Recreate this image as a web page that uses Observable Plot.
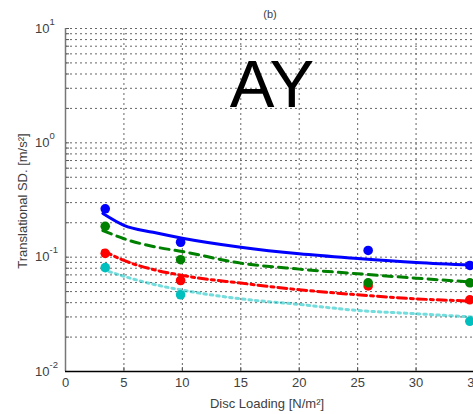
<!DOCTYPE html>
<html>
<head>
<meta charset="utf-8">
<script src="https://cdn.jsdelivr.net/npm/d3@7"></script>
<script src="https://cdn.jsdelivr.net/npm/@observablehq/plot@0.6"></script>
<style>
  html, body { margin: 0; padding: 0; background: white; overflow: hidden; }
</style>
</head>
<body>
<div id="chart"></div>
<script>
// tick values
const xTicks = [0, 5, 10, 15, 20, 25, 30, 35];
const yDecades = [0.01, 0.1, 1, 10];
const yExponents = ["-2", "-1", "0", "1"];
const yGrid = [0.01,0.02,0.03,0.04,0.05,0.06,0.07,0.08,0.09,
               0.1,0.2,0.3,0.4,0.5,0.6,0.7,0.8,0.9,
               1,2,3,4,5,6,7,8,9,10];

// measured points (disc loading)
const xPoints = [3.4, 9.85, 25.9, 34.6];
const bluePoints  = [0.265, 0.135, 0.1145, 0.0846];
const greenPoints = [0.186, 0.095, 0.0597, 0.0597];
const redPoints   = [0.108, 0.0625, 0.056, 0.0424];
const cyanPoints  = [0.081, 0.0469, null, 0.0275];

// fitted curves
const xFit = [3.2, 5, 7.5, 10, 15, 20, 25, 30, 35];
const blueFit  = [0.241, 0.190, 0.165, 0.1466, 0.1223, 0.107, 0.0974, 0.090, 0.0851];
const greenFit = [0.171, 0.145, 0.124, 0.112, 0.0887, 0.0786, 0.0716, 0.0655, 0.0604];
const redFit   = [0.1145, 0.0936, 0.078, 0.0692, 0.0593, 0.0519, 0.0469, 0.0432, 0.0412];
const cyanFit  = [0.078, 0.068, 0.058, 0.0515, 0.0432, 0.0386, 0.0342, 0.032, 0.0299];

const series = [
  {name: "cyan",  color: "#00bfbf", pts: cyanPoints,  fit: cyanFit},
  {name: "red",   color: "#ff0000", pts: redPoints,   fit: redFit},
  {name: "green", color: "#008000", pts: greenPoints, fit: greenFit},
  {name: "blue",  color: "#0000ff", pts: bluePoints,  fit: blueFit}
];
const pointRows = series.flatMap(s => xPoints.map((x, i) => ({x, y: s.pts[i], c: s.color})).filter(d => d.y != null));
const fitRows = name => { const s = series.find(s => s.name === name); return xFit.map((x, i) => ({x, y: s.fit[i]})); };

const font = "'Liberation Sans', Arial, sans-serif";
const txt = "#404040";
const gridStyle = {stroke: "#666", strokeWidth: 1, strokeDasharray: "2,3"};

const chart = Plot.plot({
  width: 473,
  height: 414,
  marginLeft: 65,
  marginRight: -1,
  marginTop: 28,
  marginBottom: 43,
  style: {fontFamily: font, background: "white", overflow: "hidden"},
  x: {domain: [0, 35]},
  y: {type: "log", domain: [0.01, 10]},
  marks: [
    Plot.ruleY(yGrid, {y: d => d, ...gridStyle}),
    Plot.ruleX(xTicks.slice(1), {x: d => d, ...gridStyle}),
    // inward ticks
    Plot.axisY({ticks: yGrid, tickSize: -4, tickFormat: () => "", stroke: "#555", label: null}),
    Plot.axisX({ticks: xTicks, tickSize: -4, tickFormat: () => "", stroke: "#555", label: null}),
    // x tick labels
    Plot.axisX({ticks: xTicks, tickSize: 0, tickPadding: 6, fontSize: 13, fill: txt, label: null}),
    // y tick labels with superscripts
    Plot.text(yDecades, {y: d => d, text: () => "10", frameAnchor: "left", textAnchor: "end", dx: -16, fontSize: 13, fill: txt}),
    Plot.text(yExponents, {y: (d, i) => yDecades[i], text: d => d, frameAnchor: "left", textAnchor: "start", dx: -16, dy: -7, fontSize: 9.5, fill: txt}),
    // spines
    Plot.ruleX([0], {x: d => d, stroke: "#777", strokeWidth: 1.5}),
    Plot.ruleY([0.01], {y: d => d, stroke: "black", strokeWidth: 1.5}),
    // fit lines
    Plot.line(fitRows("cyan"),  {x: "x", y: "y", stroke: "#00bfbf", strokeOpacity: 0.55, strokeWidth: 3, strokeDasharray: "2.5,4", curve: "monotone-x"}),
    Plot.line(fitRows("red"),   {x: "x", y: "y", stroke: "#ff0000", strokeWidth: 3, strokeDasharray: "9,4,3,4", curve: "monotone-x"}),
    Plot.line(fitRows("green"), {x: "x", y: "y", stroke: "#008000", strokeWidth: 3, strokeDasharray: "9,6", curve: "monotone-x"}),
    Plot.line(fitRows("blue"),  {x: "x", y: "y", stroke: "#0000ff", strokeWidth: 3, curve: "monotone-x"}),
    // points
    Plot.dot(pointRows, {x: "x", y: "y", fill: "c", r: 4.8, stroke: "none"}),
    // texts
    Plot.text(["(b)"], {frameAnchor: "top", lineAnchor: "middle", dy: -14, fontSize: 11, fill: txt}),
    Plot.text(["AY"], {frameAnchor: "top", lineAnchor: "middle", dy: 57, dx: 2, fontSize: 67, fill: "black"}),
    Plot.text(["Disc Loading [N/m²]"], {frameAnchor: "bottom", lineAnchor: "middle", dy: 32, dx: -3, fontSize: 13, fill: txt}),
    Plot.text(["Translational SD. [m/s²]"], {frameAnchor: "left", textAnchor: "middle", lineAnchor: "middle", dx: -43, dy: 1, rotate: -90, fontSize: 13, fill: txt})
  ]
});
document.getElementById("chart").appendChild(chart);
</script>
</body>
</html>
